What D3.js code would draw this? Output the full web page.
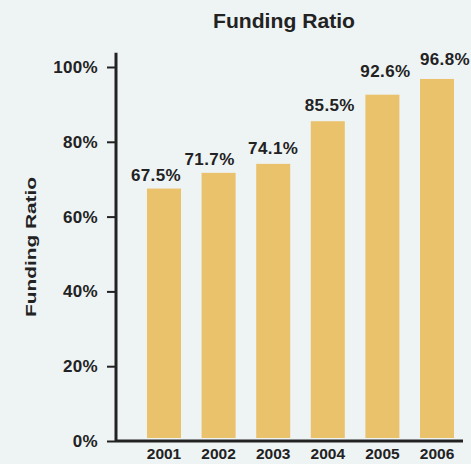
<!DOCTYPE html>
<html>
<head>
<meta charset="utf-8">
<script src="https://cdn.jsdelivr.net/npm/d3@7"></script>
<style>
  html, body { margin: 0; padding: 0; background: #eef3f4; }
  svg { display: block; }
  text { font-family: "Liberation Sans", Arial, Helvetica, sans-serif; font-weight: bold; fill: #222; }
</style>
</head>
<body>
<svg id="chart" width="471" height="464"></svg>
<script>
// Funding ratio by plan year
const years = ["2001", "2002", "2003", "2004", "2005", "2006"];
const ratios = [67.5, 71.7, 74.1, 85.5, 92.6, 96.8];
const yTicks = [0, 20, 40, 60, 80, 100];

// Hand placement of the value labels above each bar (pixels)
const labelDx = [-8, -9, 0, 2, 3, 8];
const labelLift = [8, 8, 10, 10, 18, 14];

const svg = d3.select("#chart");
const W = 471, H = 464;

svg.append("rect").attr("width", W).attr("height", H).attr("fill", "#eef3f4");

const y = d3.scaleLinear().domain([0, 100]).range([441, 67]);
const x = d3.scaleBand().domain(years)
  .range([130.6, 470.4])
  .paddingInner(0.377)
  .paddingOuter(0.3);

const axisX = 116;
const rows = years.map((yr, i) => ({ yr, v: ratios[i], i }));

// Bars
svg.append("g").selectAll("rect")
  .data(rows)
  .join("rect")
  .attr("x", d => x(d.yr))
  .attr("y", d => y(d.v))
  .attr("width", x.bandwidth())
  .attr("height", d => y(0) - 3 - y(d.v))
  .attr("fill", "#ebc26c");

// Value labels
svg.append("g").selectAll("text")
  .data(rows)
  .join("text")
  .attr("x", d => x(d.yr) + x.bandwidth() / 2 + labelDx[d.i])
  .attr("y", d => y(d.v) - labelLift[d.i])
  .attr("text-anchor", "middle")
  .style("font-size", "17px")
  .style("letter-spacing", "0.4px")
  .text(d => d3.format(".1f")(d.v) + "%");

// Y axis
const yAxis = d3.axisLeft(y)
  .tickValues(yTicks)
  .tickSize(9)
  .tickPadding(9)
  .tickFormat(d => d + "%");
const gy = svg.append("g").attr("transform", `translate(${axisX},0)`).call(yAxis);
gy.select(".domain").remove();
gy.selectAll(".tick line").attr("stroke", "#222").attr("stroke-width", 2);
gy.selectAll(".tick text")
  .style("font-size", "17px")
  .style("font-family", "'Liberation Sans', Arial, sans-serif")
  .style("font-weight", "bold")
  .style("letter-spacing", "0.3px")
  .attr("fill", "#222");
gy.append("line")
  .attr("x1", 0).attr("x2", 0)
  .attr("y1", y(103.8)).attr("y2", y(0))
  .attr("stroke", "#222").attr("stroke-width", 3);

// X axis
const xAxis = d3.axisBottom(x).tickSize(0).tickPadding(7);
const gx = svg.append("g").attr("transform", `translate(0,${y(0)})`).call(xAxis);
gx.select(".domain").remove();
gx.selectAll(".tick text")
  .style("font-size", "15.5px")
  .style("font-family", "'Liberation Sans', Arial, sans-serif")
  .style("font-weight", "bold")
  .attr("fill", "#222");
gx.append("line")
  .attr("x1", axisX).attr("x2", 463)
  .attr("y1", 0).attr("y2", 0)
  .attr("stroke", "#222").attr("stroke-width", 3);

// Titles
svg.append("text")
  .attr("x", 284).attr("y", 28)
  .attr("text-anchor", "middle")
  .attr("textLength", 142)
  .attr("lengthAdjust", "spacingAndGlyphs")
  .style("font-size", "19.5px")
  .text("Funding Ratio");

svg.append("text")
  .attr("transform", "translate(36,247) rotate(-90)")
  .attr("text-anchor", "middle")
  .attr("textLength", 140)
  .attr("lengthAdjust", "spacingAndGlyphs")
  .style("font-size", "14.5px")
  .text("Funding Ratio");
</script>
</body>
</html>
